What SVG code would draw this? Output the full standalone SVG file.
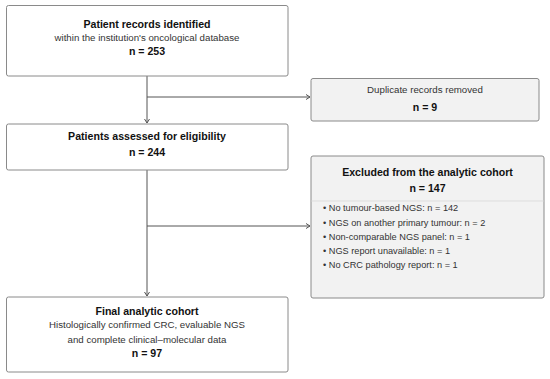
<svg xmlns="http://www.w3.org/2000/svg" width="550" height="379" viewBox="0 0 550 379">
<style>
.box{fill:#ffffff;stroke:#8a8a8a;stroke-width:1}
.side{fill:#f2f2f2;stroke:#8a8a8a;stroke-width:1}
.b{font-family:"Liberation Sans",Arial,sans-serif;font-weight:bold;font-size:10.6px;fill:#111;text-anchor:middle}
.r{font-family:"Liberation Sans",Arial,sans-serif;font-size:9.7px;fill:#333;text-anchor:middle}
.li{font-family:"Liberation Sans",Arial,sans-serif;font-size:9.2px;fill:#333}
.c{fill:none;stroke:#555;stroke-width:1}
</style>
<defs>
<marker id="ah" markerWidth="8" markerHeight="8" refX="6" refY="4" orient="auto" markerUnits="userSpaceOnUse">
<path d="M2,1.5 L6,4 L2,6.5" fill="none" stroke="#555" stroke-width="1"/>
</marker>
</defs>
<rect width="550" height="379" fill="#ffffff"/>
<g id="connectors">
<path class="c" d="M147,76 V123" marker-end="url(#ah)"/>
<path class="c" d="M147,97 H310" marker-end="url(#ah)"/>
<path class="c" d="M147,170 V296" marker-end="url(#ah)"/>
<path class="c" d="M147,226 H310" marker-end="url(#ah)"/>
</g>
<g id="identified">
<rect class="box" x="6.5" y="5.5" width="281.5" height="70.5" rx="2"/>
<text class="b" x="147" y="28">Patient records identified</text>
<text class="r" x="147" y="41">within the institution's oncological database</text>
<text class="b" x="147" y="55">n = 253</text>
</g>
<g id="duplicates">
<rect class="side" x="311" y="78.5" width="228" height="42.5" rx="2"/>
<text class="r" x="425" y="92.5">Duplicate records removed</text>
<text class="b" x="425" y="111">n = 9</text>
</g>
<g id="assessed">
<rect class="box" x="6.5" y="124" width="281.5" height="46" rx="2"/>
<text class="b" x="147" y="140">Patients assessed for eligibility</text>
<text class="b" x="147" y="156">n = 244</text>
</g>
<g id="excluded">
<rect class="side" x="311" y="156" width="233" height="142" rx="2"/>
<line x1="311.5" y1="201" x2="543.5" y2="201" stroke="#dddddd" stroke-width="1"/>
<text class="b" x="427.5" y="176">Excluded from the analytic cohort</text>
<text class="b" x="427.5" y="192">n = 147</text>
<text class="li" x="323" y="211">• No tumour-based NGS: n = 142</text>
<text class="li" x="323" y="225.5">• NGS on another primary tumour: n = 2</text>
<text class="li" x="323" y="240">• Non-comparable NGS panel: n = 1</text>
<text class="li" x="323" y="254">• NGS report unavailable: n = 1</text>
<text class="li" x="323" y="268">• No CRC pathology report: n = 1</text>
</g>
<g id="final">
<rect class="box" x="6.5" y="297" width="281.5" height="75" rx="2"/>
<text class="b" x="147" y="315">Final analytic cohort</text>
<text class="r" x="147" y="327.5">Histologically confirmed CRC, evaluable NGS</text>
<text class="r" x="147" y="342.5">and complete clinical–molecular data</text>
<text class="b" x="147" y="357">n = 97</text>
</g>
</svg>
